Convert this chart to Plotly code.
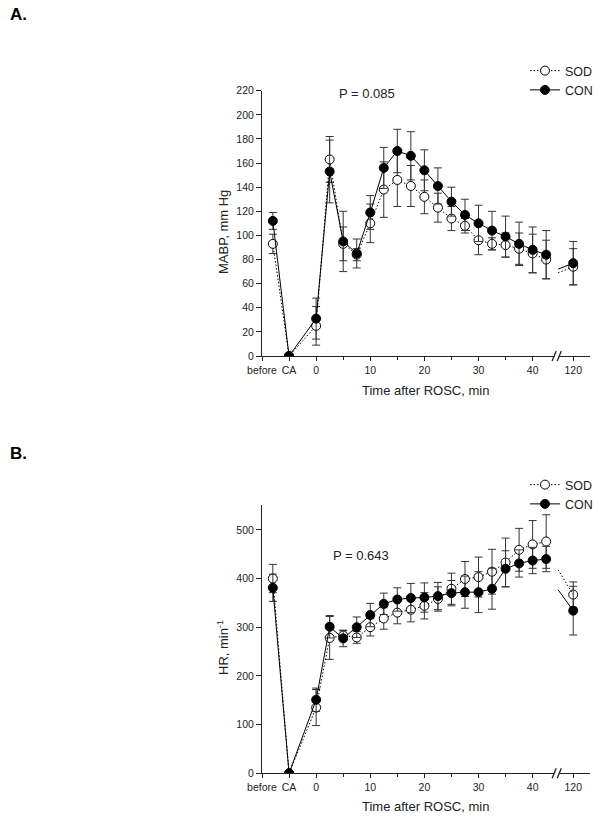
import plotly.graph_objects as go

# ---------------- data ----------------
time_points = ["before", "CA", 0, 2.5, 5, 7.5, 10, 12.5, 15, 17.5, 20, 22.5,
               25, 27.5, 30, 32.5, 35, 37.5, 40, 42.5, 120]

mabp_sod = [93, 0, 25, 163, 93, 84, 110, 138, 146, 141, 132, 123, 114, 108, 96, 93, 92, 89, 85, 80, 74]
mabp_sod_err = [8, 0, 16, 19, 14, 5, 16, 23, 22, 17, 14, 12, 10, 6, 12, 5, 10, 13, 16, 16, 15]
mabp_con = [112, 0, 31, 153, 95, 85, 119, 156, 170, 166, 154, 141, 128, 117, 110, 104, 99, 93, 88, 84, 77]
mabp_con_err = [7, 0, 17, 26, 25, 12, 14, 17, 18, 20, 17, 15, 12, 13, 15, 16, 17, 18, 19, 20, 18]

hr_sod = [400, 0, 135, 278, 283, 279, 300, 318, 330, 336, 344, 358, 379, 399, 403, 414, 433, 459, 470, 476, 367]
hr_sod_err = [29, 0, 37, 44, 10, 12, 18, 22, 23, 25, 27, 25, 32, 36, 41, 46, 50, 44, 49, 55, 26]
hr_con = [381, 0, 151, 301, 277, 300, 325, 348, 357, 360, 361, 364, 370, 372, 372, 379, 420, 431, 437, 440, 334]
hr_con_err = [28, 0, 24, 23, 17, 21, 24, 22, 24, 30, 30, 28, 26, 33, 42, 42, 37, 28, 27, 26, 50]

# value where the line re-enters after the axis break (line stub before 120 min)
mabp_stub = {"SOD": 69, "CON": 72}
hr_stub = {"SOD": 418, "CON": 377}

tick_labels = ["before", "CA", "0", "10", "20", "30", "40", "120"]
p_values = ["P = 0.085", "P = 0.643"]

# ---------------- layout helpers ----------------
OFF = 8                              # default page body margin
W, H = 602 - 2 * OFF, 818 - OFF
FONT = "Liberation Sans, Arial, sans-serif"
BREAK_POS = 47.5      # displayed position of 120 min after axis break
STUB_X = 44.7
DOT = "1.5px,2px"


def axis_pos(t):
    if t == "before":
        return -8
    if t == "CA":
        return -5
    if t == 120:
        return BREAK_POS
    return t


tick_pos = [-10, -5, 0, 10, 20, 30, 40, BREAK_POS]


def px(x):
    return (x - OFF) / W


def py(y):
    return 1 - (y - OFF) / H


x_dom = [px(262), px(590)]
x_range = [-10, 50.6]
panels = [
    dict(xa="x", ya="y", ydom=[py(356), py(90.7)], yrange=[0, 220], dtick=20,
         sod=mabp_sod, sod_e=mabp_sod_err, con=mabp_con, con_e=mabp_con_err,
         stub=mabp_stub, legend="legend", legend_top=56, ytitle="MABP, mm Hg", ytitle_y=232,
         xtitle_y=391, p_xy=(367, 93), label="A.", label_y=15, axis_y=356),
    dict(xa="x2", ya="y2", ydom=[py(773.3), py(505)], yrange=[0, 551], dtick=100,
         sod=hr_sod, sod_e=hr_sod_err, con=hr_con, con_e=hr_con_err,
         stub=hr_stub, legend="legend2", legend_top=470, ytitle="HR, min<sup>-1</sup>", ytitle_y=648,
         xtitle_y=806, p_xy=(361, 555), label="B.", label_y=453, axis_y=773.3),
]

fig = go.Figure()
annotations = []
shapes = []

for i, p in enumerate(panels):
    xs = [axis_pos(t) for t in time_points]
    for name, vals, errs, dash, fill in [("SOD", p["sod"], p["sod_e"], DOT, "white"),
                                         ("CON", p["con"], p["con_e"], "solid", "black")]:
        # line gap at the axis break
        x_line = xs[:-1] + [None] + xs[-1:]
        y_line = vals[:-1] + [None] + vals[-1:]
        e_line = errs[:-1] + [0] + errs[-1:]
        fig.add_trace(go.Scatter(
            x=x_line, y=y_line, xaxis=p["xa"], yaxis=p["ya"], name=name,
            mode="lines+markers", connectgaps=False, legend=p["legend"],
            line=dict(color="black", width=1, dash=dash),
            marker=dict(symbol="circle", size=9, color=fill,
                        line=dict(color="black", width=1)),
            error_y=dict(type="data", array=e_line, color="#333333",
                         thickness=1, width=4),
        ))
        # short line stub after the break
        fig.add_trace(go.Scatter(
            x=[STUB_X, xs[-1]], y=[p["stub"][name], vals[-1]],
            xaxis=p["xa"], yaxis=p["ya"], mode="lines", showlegend=False,
            line=dict(color="black", width=1, dash=dash), hoverinfo="skip",
        ))

    sfx = "" if i == 0 else str(i + 1)
    fig.update_layout(**{
        "xaxis" + sfx: dict(domain=x_dom, range=x_range, anchor=p["ya"],
                            tickmode="array", tickvals=tick_pos, ticktext=tick_labels,
                            ticks="outside", ticklen=4, tickwidth=1, tickcolor="#222",
                            showline=True, linecolor="#222", linewidth=1,
                            showgrid=False, zeroline=False, automargin=False,
                            tickfont=dict(family=FONT, size=10.5, color="#222"),
                            minor=dict(tickvals=[5, 15, 25, 35], ticks="outside",
                                       ticklen=3, tickcolor="#222", showgrid=False)),
        "yaxis" + sfx: dict(domain=p["ydom"], range=p["yrange"], anchor=p["xa"],
                            dtick=p["dtick"], tick0=0, automargin=False,
                            ticks="outside", ticklen=5, tickwidth=1, tickcolor="#222",
                            showline=True, linecolor="#222", linewidth=1,
                            showgrid=False, zeroline=False,
                            tickfont=dict(family=FONT, size=10.5, color="#222")),
        p["legend"]: dict(x=px(525), y=py(p["legend_top"]), xanchor="left",
                          yanchor="top", bgcolor="rgba(0,0,0,0)", borderwidth=0,
                          font=dict(family=FONT, size=12.5, color="#222"),
                          tracegroupgap=0, itemwidth=30),
    })

    # axis titles, P values, panel labels
    annotations += [
        dict(text="Time after ROSC, min", x=px(425), y=py(p["xtitle_y"]),
             xanchor="center", yanchor="middle", xref="paper",
             yref="paper", showarrow=False, font=dict(family=FONT, size=13, color="#222")),
        dict(text=p["ytitle"], x=px(223), y=py(p["ytitle_y"]),
             xanchor="center", yanchor="middle", xref="paper",
             yref="paper", showarrow=False, textangle=-90,
             font=dict(family=FONT, size=13, color="#222")),
        dict(text=p_values[i], x=px(p["p_xy"][0]), y=py(p["p_xy"][1]),
             xanchor="center", yanchor="middle", xref="paper",
             yref="paper", showarrow=False, font=dict(family=FONT, size=13, color="#222")),
        dict(text="<b>" + p["label"] + "</b>", x=0, y=py(p["label_y"]), xref="paper",
             yref="paper", xanchor="left", yanchor="middle", showarrow=False,
             font=dict(family=FONT, size=17, color="black")),
    ]

    # axis break marks
    ay = py(p["axis_y"])
    d = 5 / H
    shapes += [
        dict(type="rect", xref=p["xa"], yref="paper", x0=44.0, x1=44.9,
             y0=ay - 1.5 / H, y1=ay + 1.5 / H, fillcolor="white", line=dict(width=0),
             layer="above"),
        dict(type="line", xref=p["xa"], yref="paper", x0=43.6, x1=44.35,
             y0=ay - d, y1=ay + d, line=dict(color="#222", width=1.3), layer="above"),
        dict(type="line", xref=p["xa"], yref="paper", x0=44.55, x1=45.3,
             y0=ay - d, y1=ay + d, line=dict(color="#222", width=1.3), layer="above"),
    ]

fig.update_layout(
    width=W, height=H, margin=dict(l=0, r=0, t=0, b=0, autoexpand=False),
    paper_bgcolor="white", plot_bgcolor="white",
    annotations=annotations, shapes=shapes,
    font=dict(family=FONT, color="#222"),
)

fig.write_html("out.html")
